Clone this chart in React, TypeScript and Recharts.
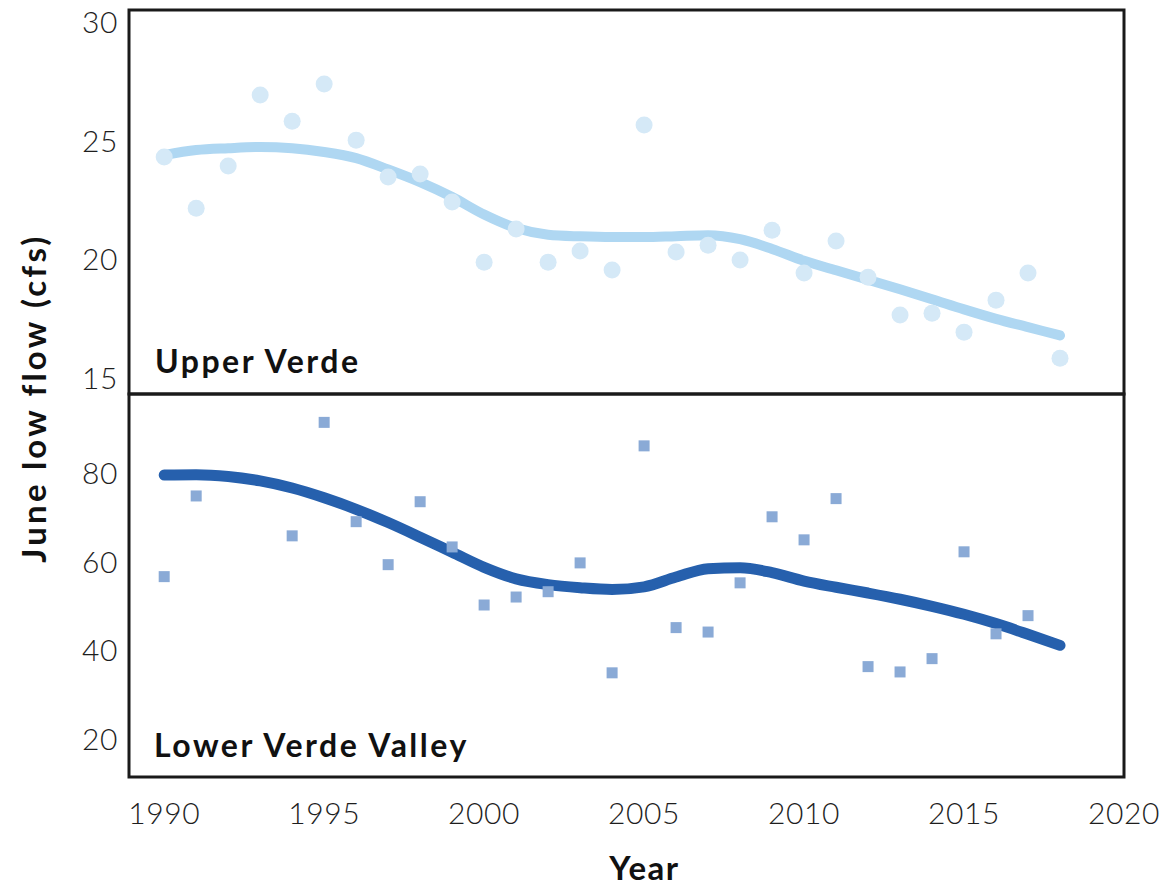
import React from 'react';
import { ComposedChart, Scatter, Line, XAxis, YAxis, ReferenceArea, Label } from 'recharts';

const years = [1990, 1991, 1992, 1993, 1994, 1995, 1996, 1997, 1998, 1999, 2000, 2001, 2002, 2003, 2004, 2005, 2006, 2007, 2008, 2009, 2010, 2011, 2012, 2013, 2014, 2015, 2016, 2017, 2018];
const upperObserved = [24.33, 22.17, 23.95, 26.94, 25.84, 27.41, 25.04, 23.48, 23.61, 22.43, 19.89, 21.29, 19.89, 20.36, 19.56, 25.68, 20.32, 20.61, 19.98, 21.24, 19.43, 20.78, 19.26, 17.66, 17.74, 16.94, 18.29, 19.43, 15.84];
const upperTrend = [24.41, 24.62, 24.7, 24.75, 24.7, 24.54, 24.28, 23.8, 23.27, 22.64, 21.9, 21.33, 21.05, 20.98, 20.95, 20.95, 20.99, 21.03, 20.86, 20.45, 19.95, 19.55, 19.15, 18.75, 18.33, 17.9, 17.5, 17.15, 16.8];
const lowerObserved = [56.7, 74.9, null, null, 65.9, 91.5, 69.1, 59.4, 73.6, 63.4, 50.3, 52.1, 53.3, 59.8, 35.0, 86.2, 45.2, 44.2, 55.3, 70.2, 65.0, 74.3, 36.4, 35.2, 38.2, 62.3, 43.8, 47.9, null];
const lowerTrend = [79.6, 79.7, 79.3, 78.3, 76.7, 74.5, 71.9, 68.9, 65.6, 62.2, 58.8, 56.2, 54.9, 54.2, 53.8, 54.4, 56.6, 58.5, 58.7, 57.6, 55.7, 54.3, 53.0, 51.6, 50.0, 48.2, 46.1, 43.7, 41.2];

const xTicks = [1990, 1995, 2000, 2005, 2010, 2015, 2020];
const upperTicks = [15, 20, 25, 30];
const lowerTicks = [20, 40, 60, 80];
const xDomain: [number, number] = [1988.9, 2020];
const upperDomain: [number, number] = [14.33, 30.53];
const lowerDomain: [number, number] = [11.5, 97.9];

const upperRows = years.map((year, i) => ({ year, obs: upperObserved[i], trend: upperTrend[i] }));
const lowerRows = years.map((year, i) => ({ year, obs: lowerObserved[i], trend: lowerTrend[i] }));
const upperPoints = upperRows.filter((r) => r.obs != null);
const lowerPoints = lowerRows.filter((r) => r.obs != null);

const FONT = 'Lato, "DejaVu Sans", sans-serif';
const tickStyle = { fontFamily: FONT, fontSize: 30, fill: '#1e1e1e', fontWeight: 300, letterSpacing: 0.6 };
const panelLabelStyle = { fontFamily: FONT, fontSize: 32, fill: '#111', fontWeight: 700, letterSpacing: 2.5 };

const Circle = (p: any) => <circle cx={p.cx} cy={p.cy} r={8.5} fill="#d5e9f7" />;
const Square = (p: any) => <rect x={p.cx - 5.5} y={p.cy - 5.5} width={11} height={11} fill="#8aaad6" />;

export default function App() {
  return (
    <div style={{ position: 'absolute', left: 0, top: 0, width: 1168, height: 890, background: '#fff' }}>
      <div style={{ position: 'absolute', left: 0, top: 0 }}>
        <ComposedChart width={1168} height={404} data={upperRows} margin={{ top: 10, right: 44, bottom: 10, left: 0 }}>
          <XAxis type="number" dataKey="year" domain={xDomain} ticks={xTicks} allowDataOverflow hide />
          <YAxis
            type="number"
            domain={upperDomain}
            ticks={upperTicks}
            allowDataOverflow
            width={129}
            axisLine={false}
            tickLine={false}
            tickSize={0}
            tickMargin={11}
            tick={tickStyle}
          />
          <ReferenceArea
            x1={xDomain[0]}
            x2={xDomain[1]}
            y1={upperDomain[0]}
            y2={upperDomain[1]}
            fill="none"
            fillOpacity={0}
            stroke="#1a1a1a"
            strokeWidth={3}
          >
            <Label value="Upper Verde" position="insideBottomLeft" offset={21} dx={5} style={panelLabelStyle} />
          </ReferenceArea>
          <Scatter data={upperPoints} dataKey="obs" shape={Circle} isAnimationActive={false} />
          <Line
            type="monotone"
            dataKey="trend"
            stroke="#afd7f2"
            strokeWidth={10}
            strokeLinecap="round"
            dot={false}
            activeDot={false}
            isAnimationActive={false}
          />
        </ComposedChart>
      </div>
      <div style={{ position: 'absolute', left: 0, top: 384 }}>
        <ComposedChart width={1168} height={506} data={lowerRows} margin={{ top: 10, right: 44, bottom: 0, left: 0 }}>
          <XAxis
            type="number"
            dataKey="year"
            domain={xDomain}
            ticks={xTicks}
            allowDataOverflow
            height={113}
            axisLine={false}
            tickLine={false}
            tickSize={0}
            tickMargin={26}
            tick={tickStyle}
          >
            <Label
              value="Year"
              position="insideBottom"
              offset={10}
              dx={18}
              style={{ fontFamily: FONT, fontSize: 33, fill: '#111', fontWeight: 700, letterSpacing: 1.5 }}
            />
          </XAxis>
          <YAxis
            type="number"
            domain={lowerDomain}
            ticks={lowerTicks}
            allowDataOverflow
            width={129}
            axisLine={false}
            tickLine={false}
            tickSize={0}
            tickMargin={11}
            tick={tickStyle}
          />
          <ReferenceArea
            x1={xDomain[0]}
            x2={xDomain[1]}
            y1={lowerDomain[0]}
            y2={lowerDomain[1]}
            fill="none"
            fillOpacity={0}
            stroke="#1a1a1a"
            strokeWidth={3}
          >
            <Label value="Lower Verde Valley" position="insideBottomLeft" offset={20} dx={5} style={panelLabelStyle} />
          </ReferenceArea>
          <Scatter data={lowerPoints} dataKey="obs" shape={Square} isAnimationActive={false} />
          <Line
            type="monotone"
            dataKey="trend"
            stroke="#2660ad"
            strokeWidth={11}
            strokeLinecap="round"
            dot={false}
            activeDot={false}
            isAnimationActive={false}
          />
        </ComposedChart>
      </div>
      <svg
        width={80}
        height={890}
        style={{ position: 'absolute', left: 0, top: 0, pointerEvents: 'none' }}
      >
        <text
          transform="translate(33,398) rotate(-90)"
          textAnchor="middle"
          dominantBaseline="central"
          style={{ fontFamily: FONT, fontSize: 33, fill: '#111', fontWeight: 700, letterSpacing: 3.2 }}
        >
          June low flow (cfs)
        </text>
      </svg>
    </div>
  );
}
